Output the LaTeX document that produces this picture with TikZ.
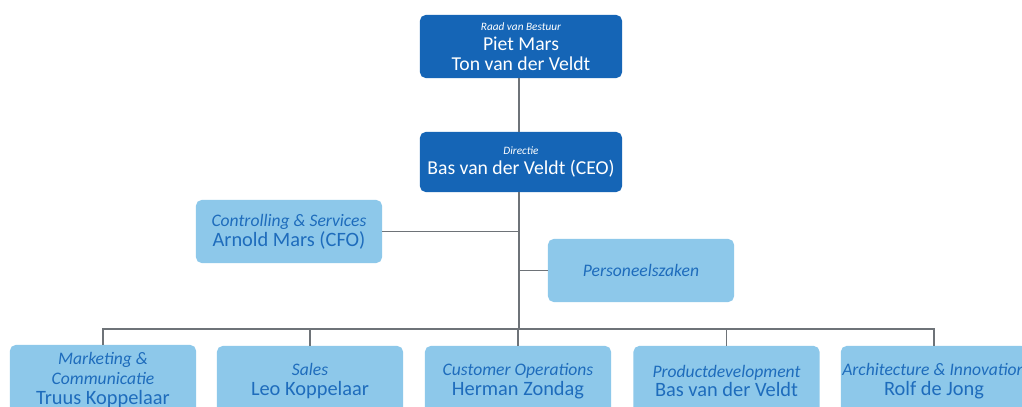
\documentclass[tikz,border=0pt]{standalone}
\usepackage{fontspec}
\setmainfont{Carlito}

\newcommand{\unitlabel}[1]{{\fontsize{12.5}{12.5}\selectfont\itshape #1}}
\newcommand{\headlabel}[1]{{\fontsize{8}{10}\selectfont\itshape #1}}

\begin{document}
\begin{tikzpicture}[x=0.025cm,y=-0.025cm,
  every node/.style={align=center},
  headbox/.style={fill=board, text=white, rounded corners=4pt, inner sep=1pt,
    minimum width=5.05cm, font=\fontsize{14}{14}\selectfont},
  unitbox/.style={fill=dept, text=deptink, rounded corners=4pt, inner sep=1pt,
    minimum width=4.65cm, minimum height=1.575cm, font=\fontsize{14.5}{14}\selectfont},
  link/.style={draw=wire, line width=1pt}]
  \definecolor{board}{HTML}{1565B6}
  \definecolor{dept}{HTML}{8DC8EA}
  \definecolor{deptink}{HTML}{1E6CBC}
  \definecolor{wire}{HTML}{6E7378}
  \clip (0,0) rectangle (1022,407);
  \useasboundingbox (0,0) rectangle (1022,407);
  \fill[white] (0,0) rectangle (1022,407);
  % Board and management on the trunk.
  \node[headbox, minimum height=1.575cm] (raad) at (521,46.5) {\headlabel{Raad van Bestuur}\\Piet Mars\\Ton van der Veldt};
  \node[headbox, minimum height=1.5cm] (dir) at (521,162) {\headlabel{Directie}\\Bas van der Veldt (CEO)};
  % Staff functions beside the trunk.
  \node[unitbox] (ctrl) at (289,231.5) {\unitlabel{Controlling \& Services}\\Arnold Mars (CFO)};
  \node[unitbox] (hr) at (641,270.5) {\unitlabel{Personeelszaken}};
  % Departments, cut off by the bottom edge.
  \node[unitbox, minimum height=1.75cm] (mkt) at (103,380) {\unitlabel{Marketing \&}\\\unitlabel{Communicatie}\\Truus Koppelaar};
  \node[unitbox, minimum height=1.75cm] (sales) at (310,381) {\unitlabel{Sales}\\Leo Koppelaar};
  \node[unitbox, minimum height=1.75cm] (cust) at (518,381) {\unitlabel{Customer Operations}\\Herman Zondag};
  \node[unitbox, minimum height=1.75cm] (prod) at (726.5,381) {\unitlabel{Productdevelopment}\\Bas van der Veldt};
  \node[unitbox, minimum height=1.75cm] (arch) at (934,381) {\unitlabel{Architecture \& Innovation}\\Rolf de Jong};
  \coordinate (bus) at (519,329);
  % Connectors.
  \draw[link] (raad.south -| bus) -- (dir.north -| bus);
  \draw[link] (dir.south -| bus) -- (bus);
  \draw[link] (ctrl.east) -- (ctrl.east -| bus);
  \draw[link] (hr.west) -- (hr.west -| bus);
  \draw[link] (mkt.north) -- (mkt.north |- bus) -| (arch.north);
  \foreach \n in {sales,cust,prod}
    \draw[link] (\n.north) -- (\n.north |- bus);
\end{tikzpicture}
\end{document}
